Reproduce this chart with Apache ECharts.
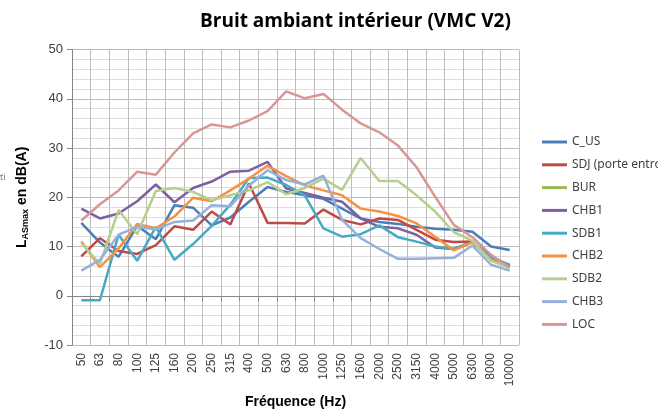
<!DOCTYPE html>
<html>
<head>
<meta charset="utf-8">
<script src="https://cdn.jsdelivr.net/npm/echarts@6/dist/echarts.min.js"></script>
<style>
  html, body { margin: 0; padding: 0; background: #fff; }
  #chart { width: 658px; height: 414px; }
</style>
</head>
<body>
<div id="chart"></div>
<script>
// fréquences (bandes tiers d'octave)
const freqs = ['50', '63', '80', '100', '125', '160', '200', '250', '315', '400', '500', '630',
  '800', '1000', '1250', '1600', '2000', '2500', '3150', '4000', '5000', '6300', '8000', '10000'];

const C_US = [14.8, 10.8, 7.9, 14.2, 11.5, 18.4, 17.9, 14.3, 15.9, 19.1, 22.1, 21.1,
  20.4, 19.7, 17.7, 15.7, 15.0, 14.6, 14.0, 13.6, 13.4, 13.0, 10.0, 9.3];
const SDJ = [8.0, 11.7, 9.1, 8.5, 10.3, 14.1, 13.4, 17.1, 14.5, 22.8, 14.8, 14.8,
  14.7, 17.5, 15.4, 14.5, 15.7, 15.4, 13.4, 11.4, 10.9, 11.0, 7.7, 6.0];
const BUR = [];
const CHB1 = [17.7, 15.7, 16.7, 19.2, 22.6, 19.0, 21.9, 23.2, 25.2, 25.4, 27.2, 21.8,
  20.9, 19.9, 19.1, 15.7, 14.0, 13.7, 12.4, 9.8, 9.5, 10.9, 8.0, 6.1];
const SDB1 = [-0.9, -0.9, 12.4, 7.1, 14.0, 7.3, 10.5, 14.2, 18.5, 23.9, 24.0, 22.5,
  20.4, 13.7, 12.0, 12.5, 14.3, 11.9, 11.0, 10.0, 9.5, 10.9, 7.7, 6.3];
const CHB2 = [11.0, 5.8, 9.6, 14.6, 13.7, 16.1, 19.9, 19.2, 21.4, 23.8, 26.4, 24.3,
  22.4, 21.4, 20.4, 17.7, 17.1, 16.2, 14.7, 12.0, 9.2, 10.9, 7.3, 5.8];
const SDB2 = [10.7, 6.5, 17.4, 12.5, 21.3, 21.9, 21.1, 19.4, 20.4, 21.4, 23.1, 20.6,
  21.9, 23.8, 21.5, 28.0, 23.3, 23.3, 20.4, 17.1, 12.9, 11.2, 7.1, 5.7];
const CHB3 = [5.1, 7.3, 12.4, 14.0, 13.5, 15.0, 15.3, 18.4, 18.2, 22.4, 25.5, 23.5,
  22.6, 24.4, 15.4, 11.7, 9.5, 7.5, 7.5, 7.6, 7.7, 10.2, 6.3, 5.1];
const LOC = [15.3, 18.6, 21.4, 25.2, 24.6, 29.1, 33.0, 34.8, 34.2, 35.6, 37.5, 41.5,
  40.1, 41.0, 37.8, 35.0, 33.2, 30.5, 26.1, 20.1, 14.4, 11.9, 8.3, 5.7];

const seriesNames = ['C_US', 'SDJ (porte entrouverte)', 'BUR', 'CHB1', 'SDB1', 'CHB2', 'SDB2', 'CHB3', 'LOC'];
const seriesData = [C_US, SDJ, BUR, CHB1, SDB1, CHB2, SDB2, CHB3, LOC];
const colors = ['#4A7EBB', '#BE4B48', '#98B954', '#7D60A0', '#46AAC5', '#F69240', '#B6CF8C', '#93B1DA', '#D99694'];

const chart = echarts.init(document.getElementById('chart'));

const option = {
  animation: false,
  backgroundColor: '#fff',
  color: colors,
  title: {
    text: 'Bruit ambiant intérieur (VMC V2)',
    left: 195,
    top: 7,
    textStyle: { fontFamily: 'Open Sans', fontWeight: 'bold', fontSize: 19, color: '#000' }
  },
  graphic: [{
    type: 'text', left: 0, top: 173,
    style: { text: 'ti', fontSize: 9, fill: '#777', fontFamily: 'Noto Sans' }
  }],
  legend: {
    orient: 'vertical',
    left: 537,
    top: 130,
    icon: 'rect',
    itemWidth: 25,
    itemHeight: 3,
    itemGap: 8.8,
    textStyle: { fontFamily: 'Noto Sans', fontSize: 12, lineHeight: 14, color: '#404040' },
    data: seriesNames
  },
  grid: { left: 72, right: 139, top: 49.6, bottom: 66 },
  xAxis: {
    type: 'category',
    data: freqs,
    boundaryGap: true,
    name: 'Fréquence (Hz)',
    nameLocation: 'middle',
    nameGap: 50,
    nameTextStyle: { fontFamily: 'Liberation Sans', fontWeight: 'bold', fontSize: 14, color: '#000' },
    axisLine: { lineStyle: { color: '#868686' } },
    axisTick: { show: true, length: 5, interval: 0, lineStyle: { color: '#868686' } },
    axisLabel: { rotate: 90, interval: 0, margin: 8, fontFamily: 'Liberation Sans', fontSize: 12, color: '#404040' },
    splitLine: { show: true, interval: 0, lineStyle: { color: '#bdbdbd', width: 1 } }
  },
  yAxis: {
    type: 'value',
    min: -10,
    max: 50,
    interval: 10,
    name: '{a|L}{b|ASmax}{a| en dB(A)}',
    nameLocation: 'middle',
    nameGap: 42,
    nameRotate: 90,
    nameTextStyle: {
      rich: {
        a: { fontFamily: 'Liberation Sans', fontWeight: 'bold', fontSize: 14, color: '#000' },
        b: { fontFamily: 'Liberation Sans', fontWeight: 'bold', fontSize: 9, color: '#000', verticalAlign: 'bottom', padding: [6, 0, 0, 0] }
      }
    },
    axisLine: { show: true, lineStyle: { color: '#868686' } },
    axisTick: { show: true, length: 5, lineStyle: { color: '#868686' } },
    axisLabel: { fontFamily: 'Liberation Sans', fontSize: 13, color: '#404040', margin: 9 },
    splitLine: { show: true, lineStyle: { color: '#bdbdbd' } },
    minorTick: { show: false, splitNumber: 5 },
    minorSplitLine: { show: true, lineStyle: { color: '#dedede' } }
  },
  series: seriesNames.map((name, i) => ({
    name: name,
    type: 'line',
    data: seriesData[i],
    symbol: 'none',
    lineStyle: { width: 2.5, color: colors[i] },
    itemStyle: { color: colors[i] }
  }))
};

chart.setOption(option);
</script>
</body>
</html>
